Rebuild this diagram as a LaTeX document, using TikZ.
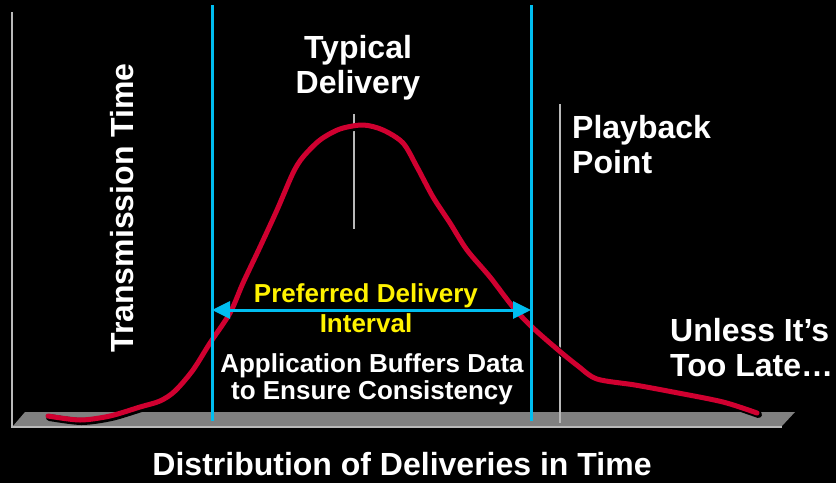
\documentclass[tikz,border=0pt]{standalone}
\usepackage{fontspec}
\setmainfont{Liberation Sans}
\usetikzlibrary{arrows.meta}
\definecolor{curvered}{RGB}{208,0,48}
\definecolor{limecyan}{RGB}{0,190,240}
\definecolor{floorgray}{RGB}{128,128,128}
\definecolor{axisgray}{RGB}{185,185,185}
\tikzset{
  lbl/.style={text=white,inner sep=0pt,font=\bfseries\fontsize{32}{35}\selectfont},
  small/.style={inner sep=0pt,font=\bfseries\fontsize{26}{27}\selectfont,align=center},
  bound/.style={limecyan,line width=3pt},
}
\newcommand{\deliverycurve}{(48,416) (80,420) (110,416) (140,407) (160,401) (175,391)
    (193,370) (210,343) (230,313) (243,283) (260,247) (277,210) (293,173)
    (303,157) (320,140) (340,129) (363,125) (383,130) (403,143) (417,167)
    (433,197) (450,223) (467,250) (490,277) (513,307) (532,327) (557,349)
    (578,366) (597,379) (635,385) (673,392) (723,402) (757,413)}
\begin{document}
\begin{tikzpicture}[x=1pt,y=-1pt,>={Triangle[length=18pt,width=17pt]}]
  \fill[black] (0,0) rectangle (836,483);
  \useasboundingbox (0,0) rectangle (836,483);
  \fill[floorgray] (25,412) -- (795,412) -- (782,426) -- (13,426) -- cycle;
  \draw[axisgray,line width=2pt] (12,12) -- (12,427) -- (782,427);
  \coordinate (lt) at (212,5);
  \coordinate (lb) at (212,421);
  \coordinate (rt) at (531,5);
  \coordinate (rb) at (531,421);
  \coordinate (la) at (212,310);
  \coordinate (ra) at (531,310);
  \coordinate (pt) at (560,104);
  \coordinate (pb) at (560,423);
  \coordinate (tt) at (354,114);
  \coordinate (tb) at (354,229);
  \draw[axisgray,line width=2pt] (pt) -- (pb);
  \draw[axisgray,line width=2pt] (tt) -- (tb);
  \draw[black,line width=7pt,line cap=round,shift={(1.5,1.5)}] plot[smooth,tension=0.5] coordinates {\deliverycurve};
  \draw[curvered,line width=5pt,line cap=round] plot[smooth,tension=0.5] coordinates {\deliverycurve};
  \draw[bound] (lt) -- (lb);
  \draw[bound] (rt) -- (rb);
  \draw[bound,<->] (la) -- (ra);
  \node[lbl,rotate=90,anchor=base] (trans) at (133,208) {Transmission Time};
  \node[lbl,align=center,anchor=north] (typical) at (358,35) {Typical\\Delivery};
  \node[lbl,align=left,anchor=north west] (playback) at (572,115) {Playback\\Point};
  \node[lbl,align=left,anchor=north west] (late) at (670,318) {Unless It’s\\Too Late…};
  \node[small,text=yellow,font=\bfseries\fontsize{26}{30}\selectfont,anchor=north] (pref) at (366,283) {Preferred Delivery\\Interval};
  \node[small,text=white,anchor=north] (buffer) at (372,353) {Application Buffers Data\\to Ensure Consistency};
  \node[lbl,anchor=base] (dist) at (402,475) {Distribution of Deliveries in Time};
\end{tikzpicture}
\end{document}
